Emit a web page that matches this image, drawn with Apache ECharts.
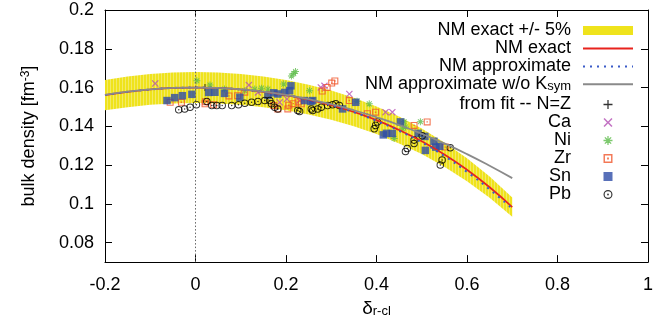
<!DOCTYPE html>
<html><head><meta charset="utf-8">
<script src="https://cdn.jsdelivr.net/npm/echarts@6/dist/echarts.min.js"></script>
<style>html,body{margin:0;padding:0;background:#fff}#c{width:656px;height:328px}</style>
</head><body><div id="c"></div>
<script>
// ---- data ----
const curveX = [-0.2,-0.15,-0.1,-0.05,0,0.05,0.1,0.15,0.2,0.25,0.3,0.35,0.4,0.45,0.5,0.55,0.6,0.65,0.7];
const bandLower = [0.1483,0.1499,0.1511,0.1518,0.152,0.1518,0.1511,0.1499,0.1483,0.1461,0.1434,0.1400,0.1360,0.1312,0.1257,0.1192,0.1117,0.1032,0.0934];
const bandUpper = [0.1639,0.1657,0.1670,0.1678,0.168,0.1678,0.1670,0.1657,0.1639,0.1615,0.1585,0.1548,0.1503,0.1451,0.1389,0.1317,0.1235,0.1141,0.1033];
const nmExact = [0.1561,0.1578,0.1590,0.1598,0.1600,0.1598,0.1590,0.1578,0.1561,0.1538,0.1509,0.1474,0.1432,0.1381,0.1323,0.1255,0.1176,0.1086,0.0984];
const nmApprox = [0.1561,0.1578,0.1590,0.1598,0.1600,0.1598,0.1590,0.1578,0.1561,0.1538,0.1509,0.1473,0.1428,0.1377,0.1317,0.1247,0.1165,0.1075,0.0975];
const nmApproxNoKsym = [0.1562,0.1579,0.1591,0.1598,0.1600,0.1598,0.1591,0.1579,0.1562,0.1540,0.1514,0.1483,0.1447,0.1407,0.1362,0.1312,0.1257,0.1197,0.1133];

const fitNZ = [[0.021,0.1601]];
const ca = [[-0.089,0.1621],[0.118,0.1613],[0.138,0.1575],[0.186,0.1524],[0.202,0.1541],[0.230,0.1533],[0.277,0.1601],[0.285,0.1609],[0.340,0.1567],[0.420,0.1473],[0.435,0.1473]];
const ni = [[0.003,0.1635],[0.032,0.1613],[0.064,0.1592],[0.109,0.1584],[0.131,0.1592],[0.146,0.1597],[0.160,0.1592],[0.195,0.1618],[0.212,0.1660],[0.217,0.1672],[0.221,0.1683],[0.252,0.1584],[0.357,0.1530],[0.384,0.1516],[0.439,0.1337],[0.457,0.1388],[0.464,0.1397],[0.461,0.1424],[0.497,0.1424]];
const zr = [[-0.056,0.1524],[-0.031,0.1524],[0.021,0.1516],[0.022,0.1527],[0.040,0.1511],[0.074,0.1557],[0.093,0.1558],[0.109,0.1576],[0.173,0.1507],[0.182,0.1490],[0.204,0.1490],[0.206,0.1509],[0.216,0.1517],[0.227,0.1526],[0.234,0.1516],[0.280,0.1582],[0.291,0.1601],[0.301,0.1623],[0.308,0.1634],[0.340,0.1533],[0.380,0.1465],[0.398,0.1473],[0.483,0.1405],[0.512,0.1423],[0.552,0.1293]];
const sn = [[-0.063,0.1533],[-0.046,0.1548],[-0.029,0.1558],[-0.008,0.1565],[0.029,0.1575],[0.043,0.1576],[0.064,0.1570],[0.098,0.1550],[0.160,0.1560],[0.173,0.1573],[0.182,0.1567],[0.197,0.1575],[0.208,0.1584],[0.211,0.1609],[0.241,0.1533],[0.255,0.1528],[0.259,0.1533],[0.325,0.1490],[0.354,0.1524],[0.415,0.1356],[0.422,0.1364],[0.435,0.1363],[0.453,0.1423],[0.492,0.1364],[0.507,0.1348],[0.508,0.1276],[0.527,0.1323],[0.531,0.1293],[0.540,0.1297]];
const pb = [[-0.037,0.1485],[-0.024,0.1490],[-0.012,0.1499],[0.002,0.1512],[0.025,0.1528],[0.036,0.1507],[0.047,0.1507],[0.059,0.1507],[0.080,0.1507],[0.095,0.1511],[0.109,0.1519],[0.124,0.1524],[0.138,0.1528],[0.153,0.1533],[0.164,0.1533],[0.168,0.1516],[0.175,0.1499],[0.182,0.1490],[0.226,0.1482],[0.230,0.1477],[0.256,0.1490],[0.259,0.1482],[0.270,0.1490],[0.278,0.1499],[0.292,0.1507],[0.303,0.1511],[0.310,0.1517],[0.318,0.1507],[0.402,0.1423],[0.398,0.1405],[0.395,0.1388],[0.501,0.1351],[0.483,0.1329],[0.483,0.1312],[0.468,0.1286],[0.464,0.1270],[0.563,0.1290],[0.545,0.1227],[0.541,0.1201]];

const yTicks = [0.08,0.1,0.12,0.14,0.16,0.18,0.2];

// ---- styling ----
const FONT = "'Liberation Sans', Arial, Helvetica, sans-serif";
const FS = 18;
const S_PLUS = 'path://M4.3,0H5.7V4.3H10V5.7H5.7V10H4.3V5.7H0V4.3H4.3Z';
const S_CROSS = 'path://M0,1.2L1.2,0L5,3.8L8.8,0L10,1.2L6.2,5L10,8.8L8.8,10L5,6.2L1.2,10L0,8.8L3.8,5Z';
const S_STAR = 'path://M4.3,0H5.7V4.3H10V5.7H5.7V10H4.3V5.7H0V4.3H4.3Z M1,2L2,1L5,4L8,1L9,2L6,5L9,8L8,9L5,6L2,9L1,8L4,5Z';
const S_SQDOT = 'path://M0,0H10V10H0Z M1.6,1.6V8.4H8.4V1.6Z M4,4H6V6H4Z';
const S_SQ = 'path://M0,0H10V10H0Z';
const S_CIRDOT = 'path://M5,0A5,5 0 1,1 5,10A5,5 0 1,1 5,0Z M5,1.3A3.7,3.7 0 1,0 5,8.7A3.7,3.7 0 1,0 5,1.3Z M5,4A1,1 0 1,1 5,6A1,1 0 1,1 5,4Z';
const YELLOW = '#efe31c';

// striped fill for the band (gnuplot-like vertical hatching)
const stripe = document.createElement('canvas');
stripe.width = 3; stripe.height = 4;
(function () {
  const g = stripe.getContext('2d');
  g.fillStyle = YELLOW; g.fillRect(0, 0, 3, 4);
  g.fillStyle = '#f3ea66'; g.fillRect(2, 0, 1, 4);
})();

const zip = (xs, ys) => xs.map((x, i) => [x, ys[i]]);

const chart = echarts.init(document.getElementById('c'), null, {renderer: 'canvas'});
const axisCommon = {
  axisLine: {onZero: false, lineStyle: {color: '#000', width: 1}},
  splitLine: {show: false}
};
const hideSym = {opacity: 0};
chart.setOption({
  animation: false,
  backgroundColor: '#fff',
  textStyle: {fontFamily: FONT},
  grid: {left: 105, right: 4, top: 10, bottom: 64},
  xAxis: [{
    type: 'value', min: -0.2, max: 1, interval: 0.2, position: 'bottom',
    ...axisCommon,
    axisTick: {inside: true, length: 7, lineStyle: {color: '#000'}},
    axisLabel: {color: '#000', fontSize: FS, margin: 14, fontFamily: FONT},
    name: '{d|δ}{s|r-cl}', nameLocation: 'middle', nameGap: 32,
    nameTextStyle: {rich: {
      d: {fontSize: 19, lineHeight: 19, color: '#000', fontFamily: FONT, verticalAlign: 'top', padding: [0,0,5,0]},
      s: {fontSize: 13, lineHeight: 13, color: '#000', fontFamily: FONT, verticalAlign: 'bottom'}
    }}
  }, {
    type: 'value', min: -0.2, max: 1, interval: 0.2, position: 'top',
    ...axisCommon,
    axisTick: {inside: true, length: 7, lineStyle: {color: '#000'}},
    axisLabel: {show: false}
  }],
  yAxis: [{
    type: 'value', min: 0.07, max: 0.2, position: 'left',
    ...axisCommon,
    axisTick: {inside: true, length: 7, customValues: yTicks, lineStyle: {color: '#000'}},
    axisLabel: {color: '#000', fontSize: FS, margin: 11, customValues: yTicks, fontFamily: FONT},
    name: '{m|bulk density [fm}{p|-3}{m|]}', nameLocation: 'middle', nameGap: 67, nameRotate: 90,
    nameTextStyle: {rich: {
      m: {fontSize: FS, lineHeight: 18, color: '#000', fontFamily: FONT, verticalAlign: 'bottom', padding: [5,0,0,0]},
      p: {fontSize: 12, lineHeight: 12, color: '#000', fontFamily: FONT, verticalAlign: 'top'}
    }}
  }, {
    type: 'value', min: 0.07, max: 0.2, position: 'right',
    ...axisCommon,
    axisTick: {inside: true, length: 7, customValues: yTicks, lineStyle: {color: '#000'}},
    axisLabel: {show: false}
  }],
  legend: {
    orient: 'vertical', right: 22, top: 21.5, align: 'right', padding: 0,
    itemWidth: 50, itemHeight: 9, itemGap: 0,
    textStyle: {fontSize: FS, color: '#000', fontFamily: FONT, lineHeight: 17.6, padding: [0, 7, 0, 0],
      rich: {
        m: {fontSize: FS, lineHeight: 17.6, color: '#000', fontFamily: FONT, verticalAlign: 'top', padding: [0,0,2,0]},
        s: {fontSize: 13, lineHeight: 13, color: '#000', fontFamily: FONT, verticalAlign: 'bottom'}
      }},
    formatter: n => n === 'NM approximate w/o Ksym' ? '{m|NM approximate w/o K}{s|sym}' : n,
    data: [
      {name: 'NM exact +/- 5%', icon: 'rect'},
      {name: 'NM exact', itemStyle: hideSym},
      {name: 'NM approximate', itemStyle: hideSym},
      {name: 'NM approximate w/o Ksym', itemStyle: hideSym},
      'from fit -- N=Z', 'Ca', 'Ni', 'Zr', 'Sn', 'Pb'
    ]
  },
  series: [
    {
      name: 'NM exact +/- 5%', type: 'custom', z: 1, clip: true, silent: true,
      itemStyle: {color: YELLOW},
      data: zip(curveX, bandUpper),
      renderItem: (params, api) => {
        if (params.dataIndex !== 0) return null;
        const pts = [];
        for (let i = 0; i < curveX.length; i++) pts.push(api.coord([curveX[i], bandUpper[i]]));
        for (let i = curveX.length - 1; i >= 0; i--) pts.push(api.coord([curveX[i], bandLower[i]]));
        return {type: 'polygon', shape: {points: pts}, style: {fill: {image: stripe, repeat: 'repeat'}}};
      }
    },
    {
      name: 'NM exact', type: 'line', data: zip(curveX, nmExact), smooth: true,
      symbol: 'none', color: '#e8231d', lineStyle: {width: 1.7, color: '#e8231d'},
      markLine: {
        silent: true, symbol: 'none', label: {show: false},
        lineStyle: {color: '#666', type: [1.5, 2], width: 1},
        data: [{xAxis: 0}]
      }
    },
    {
      name: 'NM approximate', type: 'line', data: zip(curveX, nmApprox), smooth: true,
      symbol: 'none', color: '#3a5bc8', lineStyle: {width: 2, color: '#3a5bc8', type: [2, 5]}
    },
    {
      name: 'NM approximate w/o Ksym', type: 'line', data: zip(curveX, nmApproxNoKsym), smooth: true,
      symbol: 'none', color: '#8a8a8a', lineStyle: {width: 1.8, color: '#8a8a8a'}
    },
    {name: 'from fit -- N=Z', type: 'scatter', data: fitNZ, symbol: S_PLUS, symbolSize: 7, itemStyle: {color: '#000'}},
    {name: 'Ca', type: 'scatter', data: ca, symbol: S_CROSS, symbolSize: 7, itemStyle: {color: '#b44fb4'}},
    {name: 'Ni', type: 'scatter', data: ni, symbol: S_STAR, symbolSize: 7, itemStyle: {color: '#5dbb4a'}},
    {name: 'Zr', type: 'scatter', data: zr, symbol: S_SQDOT, symbolSize: 7, itemStyle: {color: '#f0562c'}},
    {name: 'Sn', type: 'scatter', data: sn, symbol: S_SQ, symbolSize: 7.5, itemStyle: {color: '#2e4ca8'}},
    {name: 'Pb', type: 'scatter', data: pb, symbol: S_CIRDOT, symbolSize: 7.5, itemStyle: {color: '#000'}}
  ]
});
</script>
</body></html>
